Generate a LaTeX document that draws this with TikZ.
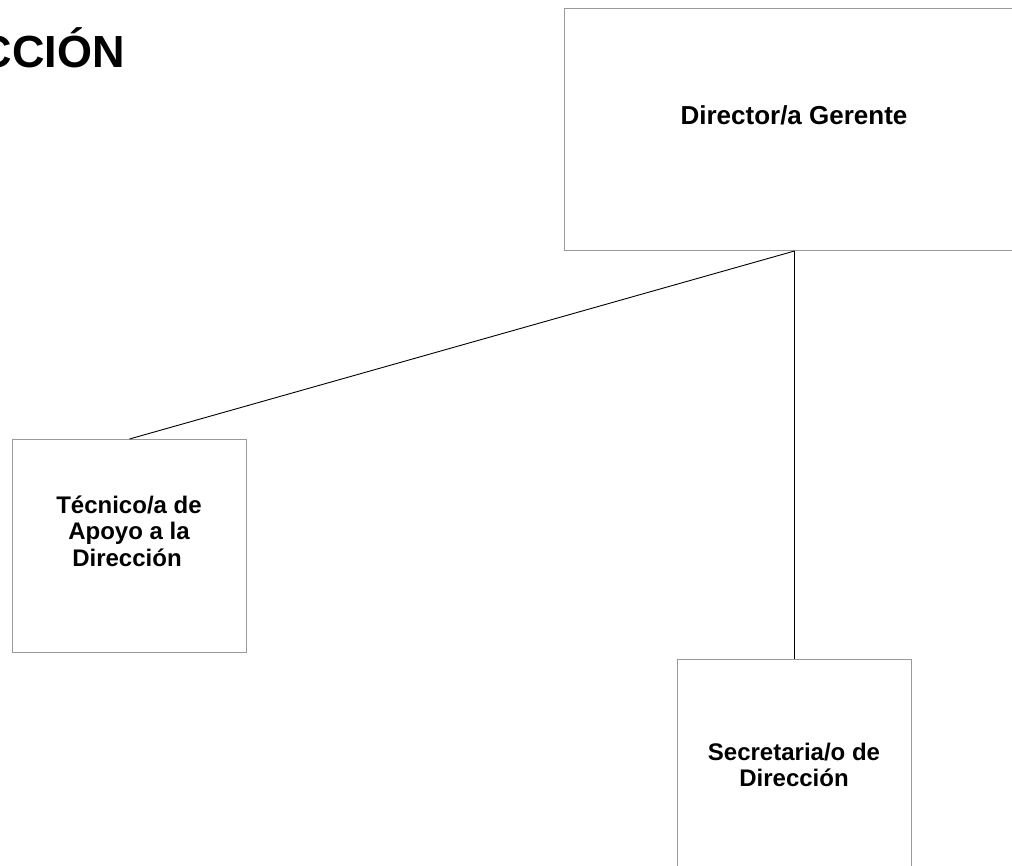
\documentclass[tikz,border=0pt]{standalone}
\usepackage{fontspec}
\setmainfont{Liberation Sans}
\begin{document}
\begin{tikzpicture}[x=1pt,y=-1pt,
  orgbox/.style={draw=black!40, line width=1pt, fill=white, inner sep=0pt, anchor=north west},
  conn/.style={draw=black, line width=0.9pt},
  lbl/.style={inner sep=0pt, align=center, font=\bfseries\fontsize{24}{26.5}\selectfont, anchor=base},
]
\useasboundingbox (0,0) rectangle (1012,866);
\clip (0,0) rectangle (1012,866);
\fill[white] (0,0) rectangle (1012,866);
% title
\node[inner sep=0pt, anchor=base east, font=\bfseries\fontsize{45}{52}\selectfont] (title) at (125,68) {CCIÓN};
% boxes
\node[orgbox, minimum width=460pt, minimum height=242pt] (dir) at (564,8) {};
\node[orgbox, minimum width=234pt, minimum height=213pt] (tec) at (12,439) {};
\node[orgbox, minimum width=234pt, minimum height=240pt] (sec) at (677,659) {};
% texts
\node[lbl, font=\bfseries\fontsize{26}{30}\selectfont] (dirt) at (794,125) {Director/a Gerente};
\node[lbl] (tect1) at (129,513) {Técnico/a de};
\node[lbl] (tect2) at (129,539.5) {Apoyo a la};
\node[lbl] (tect3) at (127,566) {Dirección};
\node[lbl] (sect1) at (794,760) {Secretaria/o de};
\node[lbl] (sect2) at (794,786.5) {Dirección};
% connectors
\draw[conn] (dir.south) -- (tec.north);
\draw[conn] (dir.south) -- (sec.north);
\end{tikzpicture}
\end{document}
